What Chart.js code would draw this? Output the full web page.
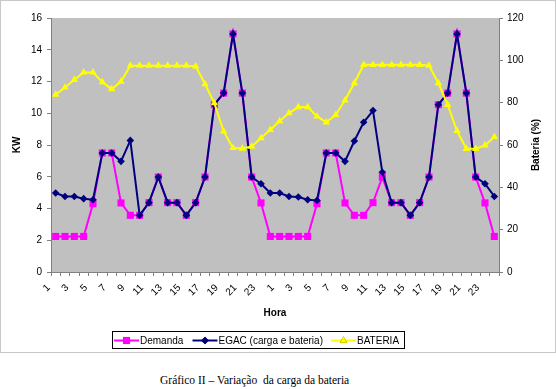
<!DOCTYPE html>
<html>
<head>
<meta charset="utf-8">
<script src="https://cdn.jsdelivr.net/npm/chart.js@4"></script>
<style>
  body { margin: 0; background: #fff; }
  #frame { position: absolute; left: 0; top: 0; width: 554px; height: 351px; border: 1px solid #c8c8c8; }
  #chart { position: absolute; left: 0; top: 0; }
  #caption { position: absolute; left: 160px; top: 373px; font: 11.5px "Liberation Serif", "Times New Roman", serif; line-height: 14px; white-space: pre; color: #000; }
</style>
</head>
<body>
<div id="frame"><canvas id="chart" width="554" height="351"></canvas></div>
<div id="caption">Gráfico II – Variação  da carga da bateria</div>
<script>
// Hours (two days)
const hours = [1, 2, 3, 4, 5, 6, 7, 8, 9, 10, 11, 12, 13, 14, 15, 16, 17, 18, 19, 20, 21, 22, 23, 24,
               1, 2, 3, 4, 5, 6, 7, 8, 9, 10, 11, 12, 13, 14, 15, 16, 17, 18, 19, 20, 21, 22, 23, 24];

// Demand, KW
const demanda = [2.24, 2.24, 2.24, 2.24, 4.3, 7.5, 7.5, 4.35, 3.57, 3.57, 4.37, 5.98, 4.37, 4.37, 3.57, 4.37, 5.98, 10.54, 11.27, 15, 11.27, 5.98, 4.35, 2.24,
                 2.24, 2.24, 2.24, 2.24, 4.3, 7.5, 7.5, 4.35, 3.57, 3.57, 4.37, 5.98, 4.37, 4.37, 3.57, 4.37, 5.98, 10.54, 11.27, 15, 11.27, 5.98, 4.35, 2.24];

// EGAC (load + battery), KW
const egac = [4.98, 4.76, 4.76, 4.62, 4.55, 7.5, 7.5, 6.97, 8.29, 3.57, 4.37, 5.98, 4.37, 4.37, 3.57, 4.37, 5.98, 10.54, 11.27, 15, 11.27, 5.98, 5.56, 4.98,
              4.98, 4.76, 4.72, 4.55, 4.51, 7.5, 7.5, 6.97, 8.25, 9.43, 10.17, 6.28, 4.37, 4.37, 3.57, 4.37, 5.98, 10.54, 11.27, 15, 11.27, 5.98, 5.56, 4.76];

// Battery charge, %
const bateria = [83.8, 87.2, 90.8, 94.3, 94.3, 89.7, 86.4, 90, 97.5, 97.5, 97.5, 97.5, 97.5, 97.5, 97.5, 97.2, 88.8, 79.8, 66.4, 58.6, 58.3, 59.3, 63.3, 67.2,
                 71.3, 75.1, 77.9, 77.9, 73.5, 70.7, 74.2, 81.1, 89.3, 97.9, 97.9, 97.9, 97.9, 97.9, 97.9, 97.9, 97.5, 89.3, 79, 66.7, 58.2, 58.2, 59.8, 63.8];

const FONT = '"Liberation Sans", Arial, sans-serif';
const AXIS = '#808080';

// gray plot area + right axis title + framed legend
const decor = {
  id: 'decor',
  beforeDraw(chart) {
    const { ctx, chartArea: a } = chart;
    ctx.save();
    ctx.fillStyle = '#c0c0c0';
    ctx.fillRect(a.left, a.top, a.right - a.left, a.bottom - a.top);
    ctx.restore();
  },
  afterDraw(chart) {
    const { ctx, chartArea: a } = chart;
    ctx.save();
    ctx.fillStyle = '#000';
    ctx.font = 'bold 10px ' + FONT;
    ctx.textAlign = 'center';
    ctx.textBaseline = 'middle';
    ctx.translate(535.7, (a.top + a.bottom) / 2);
    ctx.rotate(-Math.PI / 2);
    ctx.fillText('Bateria (%)', 0, 0);
    ctx.restore();

    // legend
    ctx.save();
    ctx.strokeStyle = '#000';
    ctx.lineWidth = 1;
    ctx.strokeRect(111.5, 330.5, 292, 17);
    const starts = [113, 191.5, 330];
    const ly = 339.5;
    chart.data.datasets.forEach((ds, i) => {
      const x0 = starts[i];
      ctx.strokeStyle = ds.borderColor;
      ctx.lineWidth = 2;
      ctx.beginPath();
      ctx.moveTo(x0, ly);
      ctx.lineTo(x0 + 25, ly);
      ctx.stroke();
      Chart.helpers.drawPoint(ctx, {
        pointStyle: ds.pointStyle, radius: ds.pointRadius, borderWidth: 0
      }, x0 + 12.5, ly);
      ctx.fillStyle = ds.pointBackgroundColor;
      ctx.fill();
      ctx.fillStyle = '#000';
      ctx.font = '10px ' + FONT;
      ctx.textAlign = 'left';
      ctx.textBaseline = 'middle';
      ctx.fillText(ds.label, x0 + 26, ly + 1);
    });
    ctx.restore();
  }
};

new Chart(document.getElementById('chart'), {
  type: 'line',
  data: {
    labels: hours,
    datasets: [
      {
        label: 'Demanda',
        data: demanda,
        yAxisID: 'y',
        borderColor: '#ff00ff',
        backgroundColor: '#ff00ff',
        pointBackgroundColor: '#ff00ff',
        pointBorderWidth: 0,
        pointStyle: 'rect',
        pointRadius: 5,
        borderWidth: 2,
        tension: 0,
        order: 3
      },
      {
        label: 'EGAC (carga e bateria)',
        data: egac,
        yAxisID: 'y',
        borderColor: '#000080',
        backgroundColor: '#000080',
        pointBackgroundColor: '#000080',
        pointBorderWidth: 0,
        pointStyle: 'rectRot',
        pointRadius: 3.8,
        borderWidth: 2,
        tension: 0,
        order: 2
      },
      {
        label: 'BATERIA',
        data: bateria,
        yAxisID: 'y2',
        borderColor: '#ffff00',
        backgroundColor: '#ffff00',
        pointBackgroundColor: '#ffff00',
        pointBorderWidth: 0,
        pointStyle: 'triangle',
        pointRadius: 4.3,
        borderWidth: 2,
        tension: 0,
        order: 1
      }
    ]
  },
  plugins: [decor],
  options: {
    responsive: false,
    animation: false,
    devicePixelRatio: 1,
    layout: { padding: { top: 17, bottom: 33, left: 0, right: 0 } },
    plugins: { legend: { display: false }, tooltip: { enabled: false } },
    scales: {
      x: {
        type: 'category',
        offset: true,
        afterFit: (s) => { s.height = 47; },
        grid: { offset: true, drawOnChartArea: false, tickLength: 4, color: AXIS },
        border: { color: AXIS },
        ticks: {
          autoSkip: false,
          maxRotation: 45,
          minRotation: 45,
          labelOffset: -7,
          padding: 6,
          color: '#000',
          font: { family: FONT, size: 10 },
          callback: function (v, i) { return i % 2 === 0 ? this.getLabelForValue(v) : ''; }
        },
        title: { display: true, text: 'Hora', color: '#000', padding: { top: 0, bottom: 0 }, font: { family: FONT, size: 10, weight: 'bold' } }
      },
      y: {
        position: 'left',
        min: 0,
        max: 16,
        afterFit: (s) => { s.width = 50; },
        grid: { drawOnChartArea: false, tickLength: 4, color: AXIS },
        border: { color: AXIS },
        ticks: { stepSize: 2, padding: 5, color: '#000', font: { family: FONT, size: 10 } },
        title: { display: true, text: 'KW', color: '#000', padding: { top: 10, bottom: 0 }, font: { family: FONT, size: 10, weight: 'bold' } }
      },
      y2: {
        position: 'right',
        min: 0,
        max: 120,
        afterFit: (s) => { s.width = 56; },
        grid: { drawOnChartArea: false, tickLength: 4, color: AXIS },
        border: { color: AXIS },
        ticks: { stepSize: 20, padding: 4, color: '#000', font: { family: FONT, size: 10 } }
      }
    }
  }
});
</script>
</body>
</html>
